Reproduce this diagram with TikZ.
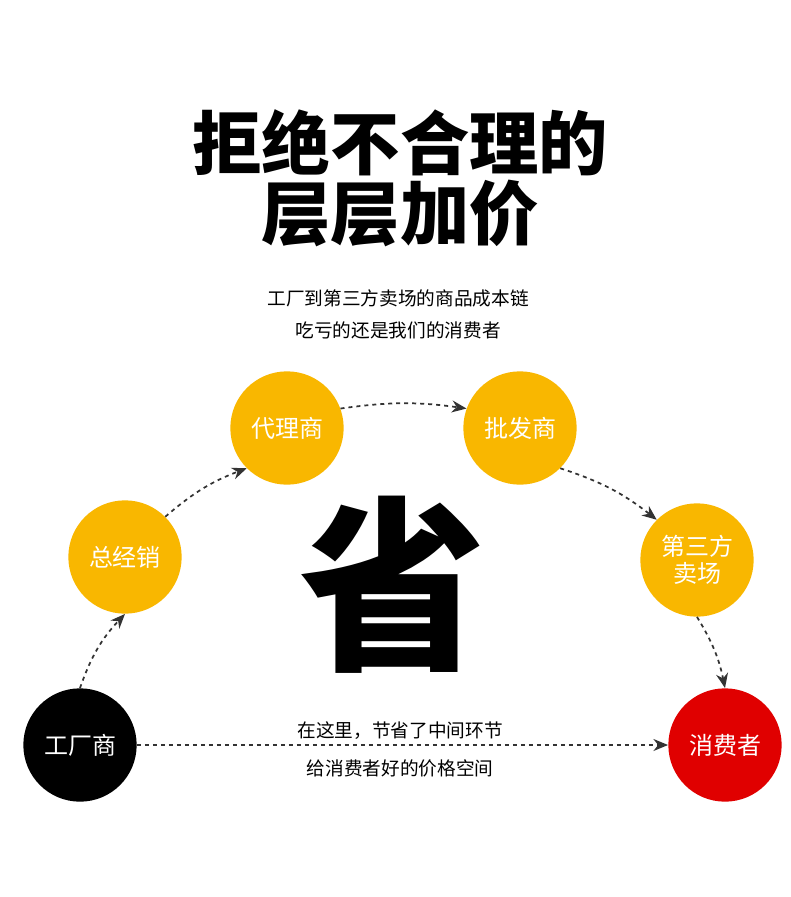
\documentclass[tikz,border=0pt]{standalone}
\usepackage{fontspec}
\setmainfont{Noto Sans CJK SC}
\usetikzlibrary{arrows.meta}
\definecolor{org}{HTML}{F9B700}
\definecolor{rd}{HTML}{E00000}
\begin{document}
\begin{tikzpicture}[x=0.75pt,y=-0.75pt,
 ball/.style={circle,minimum size=85pt,inner sep=0pt,text=white,font=\fontsize{18}{20}\selectfont,align=center},
 conn/.style={dashed,line width=1.3pt,draw=black!80,-{Stealth[length=11pt,width=9pt]}}]
\useasboundingbox (0,0) rectangle (790,897);
\fill[white] (0,0) rectangle (790,897);
\node (t1) at (400,143) {\bfseries\fontsize{52}{56}\selectfont 拒绝不合理的};
\node (t2) at (400,213) {\bfseries\fontsize{52}{56}\selectfont 层层加价};
\node (s1) at (398,298) {\fontsize{14}{16}\selectfont 工厂到第三方卖场的商品成本链};
\node (s2) at (398,330) {\fontsize{14}{16}\selectfont 吃亏的还是我们的消费者};
\node (sheng) at (393,585) {\bfseries\fontsize{140}{150}\selectfont 省};
\node[ball,fill=black] (a) at (80,745) {工厂商};
\node[ball,fill=org] (b) at (125,557) {总经销};
\node[ball,fill=org] (c) at (287,428) {代理商};
\node[ball,fill=org] (d) at (520,428) {批发商};
\node[ball,fill=org] (e) at (697,560) {第三方\\卖场};
\node[ball,fill=rd] (f) at (725,745) {消费者};
\node (m1) at (400,731) {\fontsize{14}{16}\selectfont 在这里，节省了中间环节};
\node (m2) at (400,768) {\fontsize{14}{16}\selectfont 给消费者好的价格空间};
\draw[conn] (a.north) to[bend left=12] (b.south);
\draw[conn] (b.north east) to[bend left=10] (c.south west);
\draw[conn] (c.20) to[bend left=8] (d.160);
\draw[conn] (d.south east) to[bend left=10] (e.north west);
\draw[conn] (e.south) to[bend left=10] (f.north);
\draw[conn] (a.east) -- (f.west);
\end{tikzpicture}
\end{document}
